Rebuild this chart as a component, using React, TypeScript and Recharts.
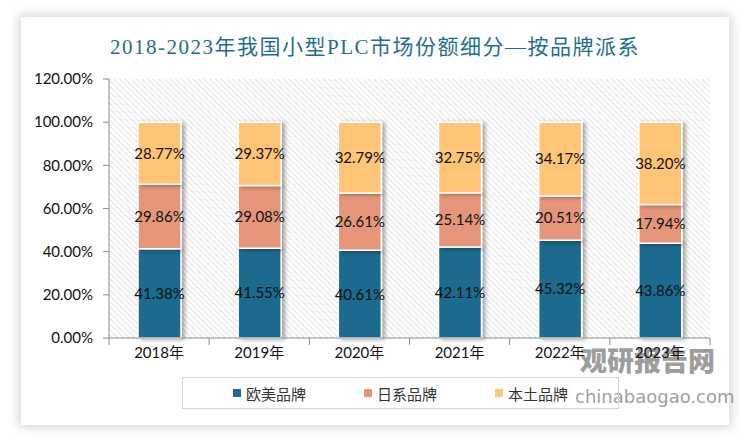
import React from "react";
import {
  Bar,
  BarChart,
  CartesianGrid,
  LabelList,
  XAxis,
  YAxis,
} from "recharts";

const YEARS = ["2018年", "2019年", "2020年", "2021年", "2022年", "2023年"];
const WESTERN = [41.38, 41.55, 40.61, 42.11, 45.32, 43.86];
const JAPANESE = [29.86, 29.08, 26.61, 25.14, 20.51, 17.94];
const DOMESTIC = [28.77, 29.37, 32.79, 32.75, 34.17, 38.2];
const Y_TICKS = [0, 20, 40, 60, 80, 100, 120];

const SERIES = [
  { key: "western", name: "欧美品牌", color: "#1F6A8E" },
  { key: "japanese", name: "日系品牌", color: "#E5967A" },
  { key: "domestic", name: "本土品牌", color: "#FFC475" },
];

const data = YEARS.map((year, i) => ({
  year,
  western: WESTERN[i],
  japanese: JAPANESE[i],
  domestic: DOMESTIC[i],
}));

const FONT = "Lato, 'Noto Sans CJK SC', sans-serif";
const AXIS = "#8c8c8c";

const pct = (v: number) => `${Number(v).toFixed(2)}%`;

// Excel-style category axis: label in the middle, tick marks on the band edges
function YearTick(props: any) {
  const { x, y, payload, index, width } = props;
  const band = width / YEARS.length;
  return (
    <g>
      <line x1={x - band / 2} x2={x - band / 2} y1={y - 8} y2={y - 1} stroke={AXIS} />
      {index === YEARS.length - 1 && (
        <line x1={x + band / 2} x2={x + band / 2} y1={y - 8} y2={y - 1} stroke={AXIS} />
      )}
      <text x={x} y={y + 12} textAnchor="middle" fontSize={15} fill="#111" fontFamily={FONT}>
        {payload.value}
      </text>
    </g>
  );
}

function LegendBox() {
  return (
    <div
      style={{
        position: "absolute",
        left: 182,
        top: 377,
        width: 437,
        height: 32,
        border: "1px solid #d4d4d4",
        display: "flex",
        alignItems: "center",
        justifyContent: "center",
        gap: 58,
        fontFamily: FONT,
        fontSize: 15,
        color: "#333",
        boxSizing: "border-box",
      }}
    >
      {SERIES.map((s) => (
        <span key={s.key} style={{ display: "flex", alignItems: "center", gap: 5 }}>
          <span style={{ width: 8, height: 8, background: s.color, display: "inline-block" }} />
          {s.name}
        </span>
      ))}
    </div>
  );
}

export default function App() {
  return (
    <div
      style={{
        position: "fixed",
        left: 0,
        top: 0,
        width: 750,
        height: 443,
        background: "#fff",
        overflow: "hidden",
      }}
    >
      <div
        style={{
          position: "absolute",
          left: 21,
          top: 17,
          width: 708,
          height: 408,
          background: "#fff",
          boxShadow: "0 0 10px 2px rgba(0,0,0,0.18)",
        }}
      />

      {/* watermark, drawn under the chart like in the source */}
      <div
        style={{
          position: "absolute",
          left: 580,
          top: 343,
          fontFamily: "'Noto Sans CJK SC', sans-serif",
          fontWeight: 900,
          fontSize: 27,
          color: "rgba(140,140,140,0.85)",
          lineHeight: "34px",
        }}
      >
        观研报告网
      </div>
      <div
        style={{
          position: "absolute",
          left: 575,
          top: 385,
          fontFamily: "'DejaVu Sans', sans-serif",
          fontSize: 18,
          color: "rgba(140,140,140,0.85)",
          lineHeight: "24px",
        }}
      >
        chinabaogao.com
      </div>

      <div
        style={{
          position: "absolute",
          left: 0,
          top: 30,
          width: 750,
          textAlign: "center",
          fontFamily: "'Liberation Serif', 'Noto Sans CJK SC', serif",
          fontSize: 21,
          letterSpacing: 1.5,
          color: "#1F6E8E",
        }}
      >
        2018-2023年我国小型PLC市场份额细分—按品牌派系
      </div>

      <div style={{ position: "absolute", left: 0, top: 0 }}>
        <BarChart
          width={750}
          height={443}
          data={data}
          margin={{ top: 79, right: 40, bottom: 75, left: 20 }}
          barCategoryGap={0}
        >
          <defs>
            <pattern
              id="hatch"
              patternUnits="userSpaceOnUse"
              width={4}
              height={4}
              patternTransform="rotate(-45)"
            >
              <rect width={4} height={4} fill="#ffffff" />
              <line x1={0} y1={0} x2={0} y2={4} stroke="#cfcfcf" strokeWidth={1.2} />
            </pattern>
            <filter id="barShadow" x="-20%" y="-10%" width="150%" height="120%">
              <feDropShadow dx={3} dy={1} stdDeviation={2} floodColor="#000" floodOpacity={0.35} />
            </filter>
          </defs>
          <CartesianGrid fill="url(#hatch)" stroke="none" horizontal={false} vertical={false} />
          <XAxis
            dataKey="year"
            height={30}
            axisLine={{ stroke: AXIS }}
            tickLine={false}
            tick={<YearTick />}
            interval={0}
          />
          <YAxis
            width={89}
            domain={[0, 120]}
            ticks={Y_TICKS}
            tickFormatter={pct}
            axisLine={{ stroke: AXIS }}
            tickLine={{ stroke: AXIS }}
            tickSize={6}
            tickMargin={10}
            tick={{ fontSize: 15, fill: "#111", fontFamily: FONT }}
            interval={0}
          />
          {SERIES.map((s) => (
            <Bar
              key={s.key}
              dataKey={s.key}
              name={s.name}
              stackId="a"
              fill={s.color}
              stroke="#fff"
              strokeWidth={1.5}
              barSize={43}
              isAnimationActive={false}
              style={{ filter: "url(#barShadow)" }}
            >
              <LabelList
                dataKey={s.key}
                position="center"
                formatter={(v: any) => pct(v)}
                style={{ fontSize: 15, fill: "#111", fontFamily: FONT }}
              />
            </Bar>
          ))}
        </BarChart>
      </div>

      <LegendBox />
    </div>
  );
}
